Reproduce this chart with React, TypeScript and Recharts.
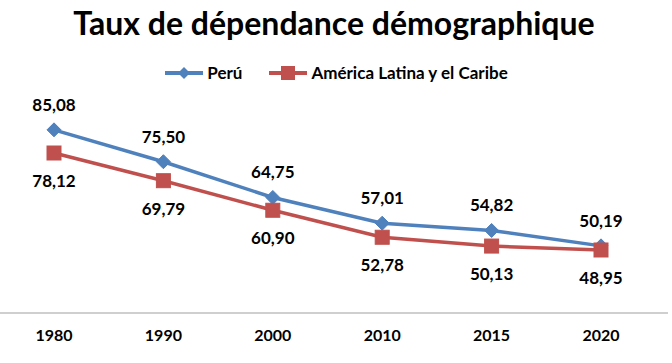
import { LineChart, Line, XAxis, YAxis, Legend, LabelList } from "recharts"

const years = ["1980", "1990", "2000", "2010", "2015", "2020"]
const peru = [85.08, 75.5, 64.75, 57.01, 54.82, 50.19]
const latam = [78.12, 69.79, 60.9, 52.78, 50.13, 48.95]

const BLUE = "#4f81bd"
const RED = "#c0504d"
const FONT = "Lato, 'Open Sans', sans-serif"

const data = years.map((year, i) => ({
  year,
  peru: peru[i],
  latam: latam[i],
}))

const fmt = (v: any) => Number(v).toFixed(2).replace(".", ",")

function Diamond(props: any) {
  const { cx, cy } = props
  if (cx == null || cy == null) return null
  const r = 7
  return (
    <path
      d={`M${cx},${cy - r} L${cx + r},${cy} L${cx},${cy + r} L${cx - r},${cy} Z`}
      fill={BLUE}
      stroke={BLUE}
    />
  )
}

function Square(props: any) {
  const { cx, cy } = props
  if (cx == null || cy == null) return null
  const s = 7
  return (
    <rect
      x={cx - s}
      y={cy - s}
      width={s * 2}
      height={s * 2}
      fill={RED}
      stroke={RED}
    />
  )
}

function LegendContent() {
  const items = [
    { label: "Perú", color: BLUE, shape: "diamond" },
    { label: "América Latina y el Caribe", color: RED, shape: "square" },
  ]
  return (
    <div
      style={{
        display: "flex",
        justifyContent: "center",
        gap: 26,
        fontFamily: FONT,
        fontWeight: 700,
        fontSize: 17,
        color: "#000",
      }}
    >
      {items.map((it) => (
        <div key={it.label} style={{ display: "flex", alignItems: "center" }}>
          <svg width={40} height={16} style={{ marginRight: 3 }}>
            <line x1={1} y1={8} x2={39} y2={8} stroke={it.color} strokeWidth={4} />
            {it.shape === "diamond" ? (
              <path d="M20,2 L26,8 L20,14 L14,8 Z" fill={it.color} />
            ) : (
              <rect x={13} y={1} width={14} height={14} fill={it.color} />
            )}
          </svg>
          <span>{it.label}</span>
        </div>
      ))}
    </div>
  )
}

function App() {
  return (
    <div style={{ position: "absolute", left: 0, top: 0, width: 672, height: 363, background: "#fff" }}>
      <div
        style={{
          position: "absolute",
          left: 0,
          top: 3,
          width: 668,
          textAlign: "center",
          fontFamily: FONT,
          fontWeight: 700,
          fontSize: 32,
          color: "#000",
        }}
      >
        Taux de dépendance démographique
      </div>
      <LineChart
        width={672}
        height={363}
        data={data}
        margin={{ top: 113.5, right: 4, left: 0, bottom: 20 }}
      >
        <XAxis
          dataKey="year"
          height={30}
          padding={{ left: 54, right: 67 }}
          tickLine={false}
          tickSize={6}
          tickMargin={11}
          axisLine={{ stroke: "#bfbfbf", strokeWidth: 1.5 }}
          tick={{ fill: "#000", fontFamily: FONT, fontWeight: 700, fontSize: 16 }}
        />
        <YAxis hide domain={[30, 90]} />
        <Legend
          verticalAlign="middle"
          align="center"
          layout="horizontal"
          content={<LegendContent />}
          wrapperStyle={{ top: 62, left: 0, width: 672 }}
        />
        <Line
          dataKey="peru"
          name="Perú"
          stroke={BLUE}
          strokeWidth={3.5}
          dot={<Diamond />}
          isAnimationActive={false}
        >
          <LabelList
            dataKey="peru"
            position="top"
            offset={19}
            formatter={fmt}
            style={{ fill: "#000", fontFamily: FONT, fontWeight: 700, fontSize: 17 }}
          />
        </Line>
        <Line
          dataKey="latam"
          name="América Latina y el Caribe"
          stroke={RED}
          strokeWidth={3.5}
          dot={<Square />}
          isAnimationActive={false}
        >
          <LabelList
            dataKey="latam"
            position="bottom"
            offset={22}
            formatter={fmt}
            style={{ fill: "#000", fontFamily: FONT, fontWeight: 700, fontSize: 17 }}
          />
        </Line>
      </LineChart>
    </div>
  )
}

export default App
